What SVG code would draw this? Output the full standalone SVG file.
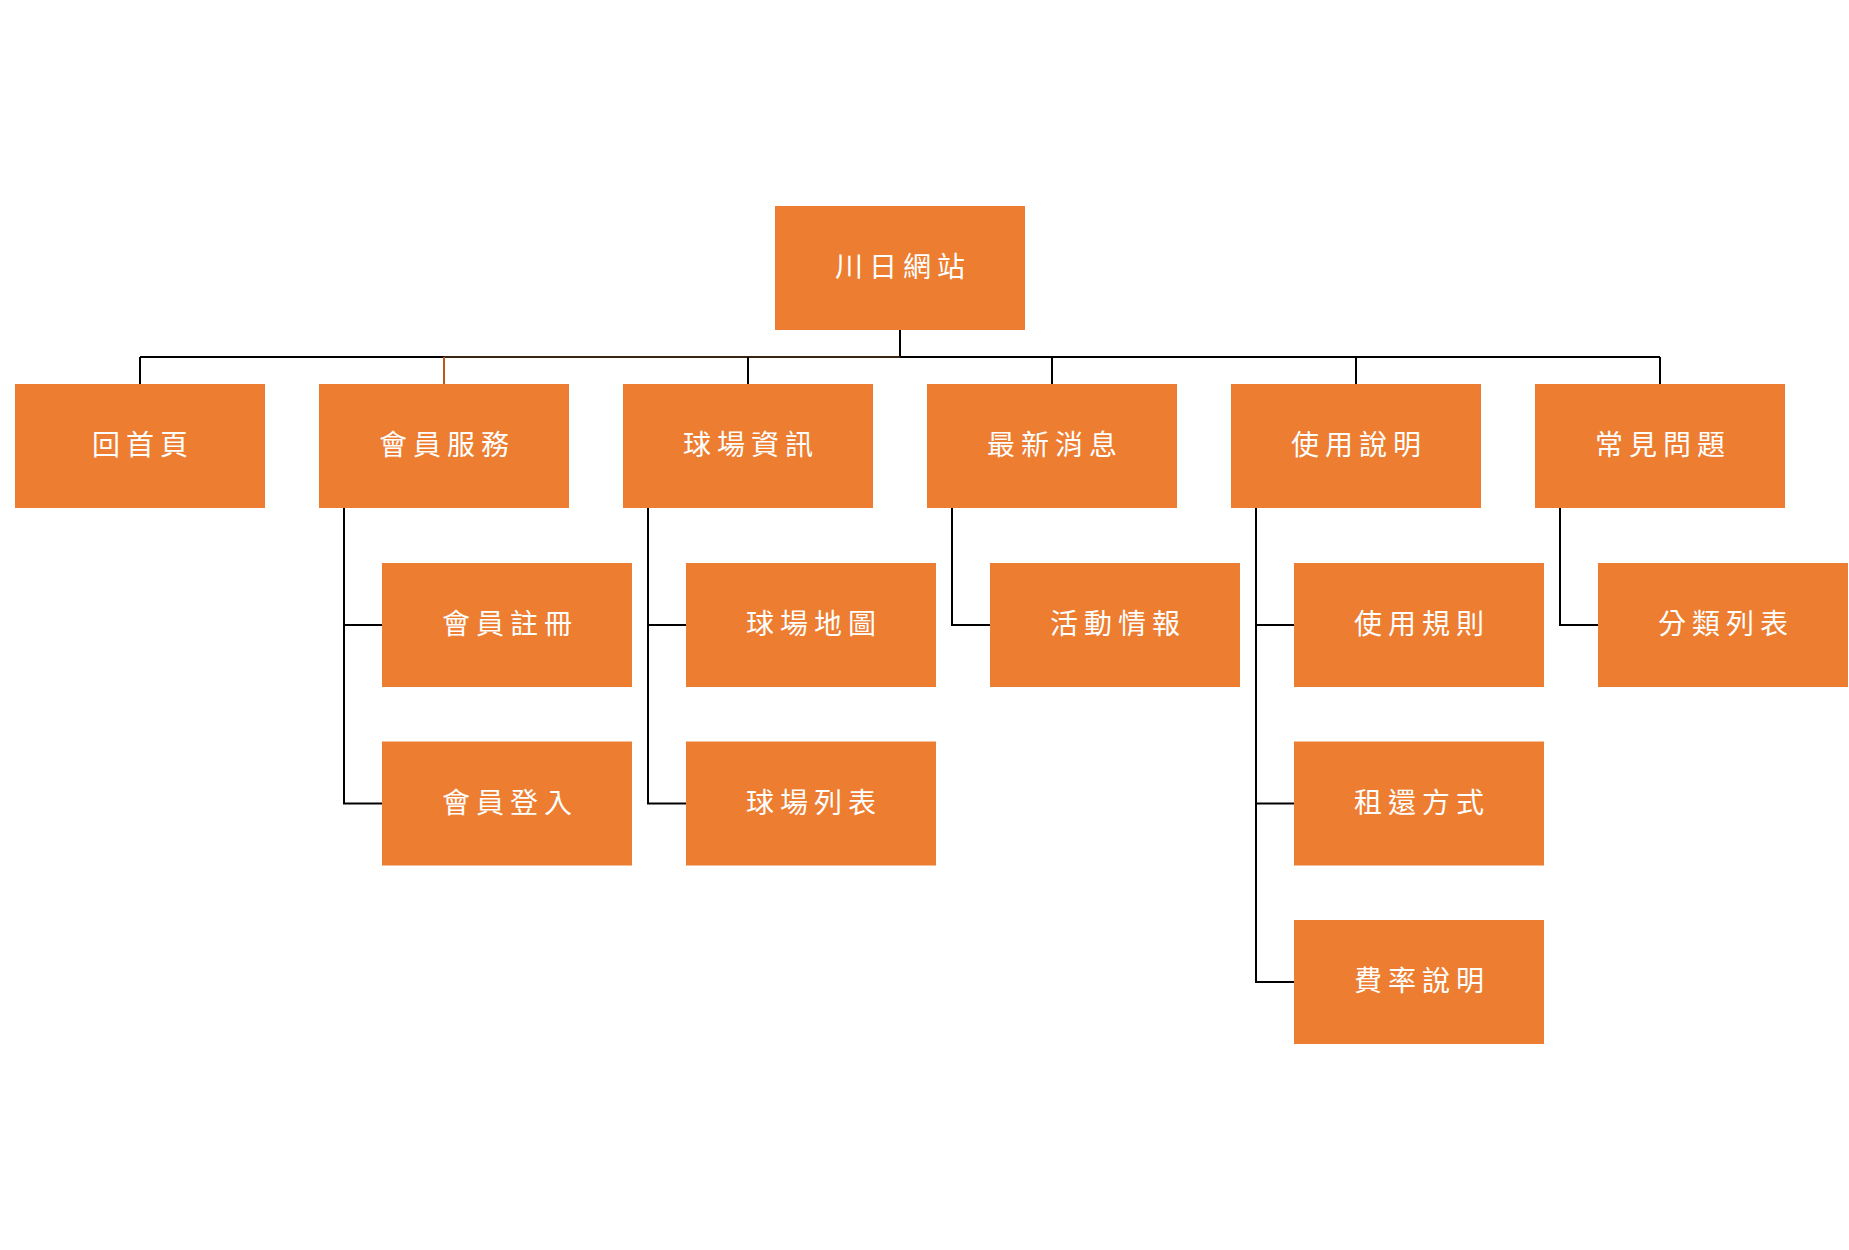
<svg xmlns="http://www.w3.org/2000/svg" width="1849" height="1250" viewBox="0 0 1849 1250">
<style>
.box{fill:#ED7D31}
.lbl{fill:#FFFFFF;font-family:"Noto Sans CJK TC","Noto Sans CJK SC",sans-serif;font-size:28px;letter-spacing:6px;text-anchor:middle;dominant-baseline:central}
.ln{stroke:#000000;stroke-width:2;fill:none}
</style>
<rect width="1849" height="1250" fill="#FFFFFF"/>
<g id="connectors">
<path class="ln" d="M900 330V357M140 357H1660"/>
<path d="M444 357H900" stroke="#3A2412" stroke-width="2" fill="none"/>
<path class="ln" d="M140 357V384M748 357V384M1052 357V384M1356 357V384M1660 357V384"/>
<path d="M444 357V384" stroke="#C0561A" stroke-width="2" fill="none"/>
<path class="ln" d="M344 508V803.5H382M344 625H382"/>
<path class="ln" d="M648 508V803.5H686M648 625H686"/>
<path class="ln" d="M952 508V625H990"/>
<path class="ln" d="M1256 508V982H1294M1256 625H1294M1256 803.5H1294"/>
<path class="ln" d="M1560 508V625H1598"/>
</g>
<g id="root"><rect class="box" x="775" y="206" width="250" height="124"/><text class="lbl" x="903" y="265">川日網站</text></g>
<g id="home"><rect class="box" x="15" y="384" width="250" height="124"/><text class="lbl" x="143" y="443">回首頁</text></g>
<g id="member"><rect class="box" x="319" y="384" width="250" height="124"/><text class="lbl" x="447" y="443">會員服務</text></g>
<g id="court"><rect class="box" x="623" y="384" width="250" height="124"/><text class="lbl" x="751" y="443">球場資訊</text></g>
<g id="news"><rect class="box" x="927" y="384" width="250" height="124"/><text class="lbl" x="1055" y="443">最新消息</text></g>
<g id="guide"><rect class="box" x="1231" y="384" width="250" height="124"/><text class="lbl" x="1359" y="443">使用說明</text></g>
<g id="faq"><rect class="box" x="1535" y="384" width="250" height="124"/><text class="lbl" x="1663" y="443">常見問題</text></g>
<g id="register"><rect class="box" x="382" y="563" width="250" height="124"/><text class="lbl" x="510" y="622">會員註冊</text></g>
<g id="login"><rect class="box" x="382" y="741.5" width="250" height="124"/><text class="lbl" x="510" y="800.5">會員登入</text></g>
<g id="courtmap"><rect class="box" x="686" y="563" width="250" height="124"/><text class="lbl" x="814" y="622">球場地圖</text></g>
<g id="courtlist"><rect class="box" x="686" y="741.5" width="250" height="124"/><text class="lbl" x="814" y="800.5">球場列表</text></g>
<g id="events"><rect class="box" x="990" y="563" width="250" height="124"/><text class="lbl" x="1118" y="622">活動情報</text></g>
<g id="rules"><rect class="box" x="1294" y="563" width="250" height="124"/><text class="lbl" x="1422" y="622">使用規則</text></g>
<g id="rental"><rect class="box" x="1294" y="741.5" width="250" height="124"/><text class="lbl" x="1422" y="800.5">租還方式</text></g>
<g id="rates"><rect class="box" x="1294" y="920" width="250" height="124"/><text class="lbl" x="1422" y="979">費率說明</text></g>
<g id="categories"><rect class="box" x="1598" y="563" width="250" height="124"/><text class="lbl" x="1726" y="622">分類列表</text></g>
</svg>
